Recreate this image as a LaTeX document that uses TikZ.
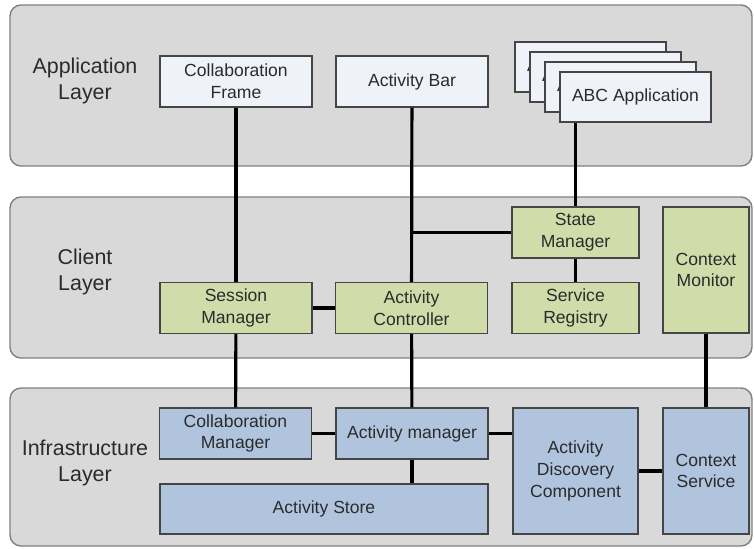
\documentclass[tikz,border=0pt]{standalone}
\usepackage{fontspec}
\setmainfont{Liberation Sans}
\usetikzlibrary{positioning}

\definecolor{layerfill}{HTML}{D9D9D9}
\definecolor{layerline}{HTML}{808080}
\definecolor{appfill}{HTML}{EFF2F8}
\definecolor{clientfill}{HTML}{D1DCAB}
\definecolor{infrafill}{HTML}{B1C4DE}
\definecolor{boxline}{HTML}{454545}
\definecolor{txt}{HTML}{2B2B2B}

\begin{document}
\begin{tikzpicture}[%
    x=0.02cm, y=-0.02cm,
    layer/.style={draw=layerline, fill=layerfill, line width=0.8pt, rounded corners=0.22cm},
    layerlabel/.style={text=txt, align=center, font=\fontsize{12.2}{15}\selectfont},
    box/.style={draw=boxline, line width=0.8pt, text=txt, align=center,
      inner sep=0pt, font=\fontsize{10}{12.4}\selectfont},
    appbox/.style={box, fill=appfill, minimum width=3.04cm, minimum height=1.02cm},
    clientbox/.style={box, fill=clientfill, minimum width=3.04cm, minimum height=1.02cm},
    infrabox/.style={box, fill=infrafill, minimum width=3.04cm, minimum height=1.02cm},
    link/.style={line width=1.8pt, black}
  ]
  \useasboundingbox (0,0) rectangle (754,548);

  % layers
  \draw[layer] (10,5) rectangle (752,166);
  \draw[layer] (10,197) rectangle (752,358);
  \draw[layer] (10,388) rectangle (752,546);

  \node[layerlabel] (applabel) at (85,81) {Application\\Layer};
  \node[layerlabel] (clientlabel) at (85,272) {Client\\Layer};
  \node[layerlabel] (infralabel) at (85,463) {Infrastructure\\Layer};

  % application layer
  \node[appbox] (frame) at (236,81.5) {Collaboration\\Frame};
  \node[appbox] (bar) at (412,81.5) {Activity Bar};
  \node[appbox, minimum width=3.02cm, minimum height=1cm] (abc3) at (590.5,67) {ABC Application};
  \node[appbox, minimum width=3.02cm, minimum height=1cm] (abc2) at (605.5,77) {ABC Application};
  \node[appbox, minimum width=3.02cm, minimum height=1cm] (abc1) at (620.5,87) {ABC Application};
  \node[appbox, minimum width=3.02cm, minimum height=1cm] (abc) at (635.5,97) {ABC Application};

  % client layer
  \node[clientbox] (session) at (236,308) {Session\\Manager};
  \node[clientbox] (ctrl) at (411.5,308) {Activity\\Controller};
  \node[clientbox, minimum width=2.54cm] (state) at (575.5,232.5) {State\\Manager};
  \node[clientbox, minimum width=2.54cm] (registry) [below=1.51cm of state.center, anchor=center] {Service\\Registry};
  \node[clientbox, minimum width=1.72cm, minimum height=2.52cm] (monitor) at (706,270) {Context\\Monitor};

  % infrastructure layer
  \node[infrabox] (collab) at (235.5,433.5) {Collaboration\\Manager};
  \node[infrabox] (am) at (412,433.5) {Activity manager};
  \node[infrabox, minimum width=6.56cm, minimum height=1cm] (store) at (324,509) {Activity Store};
  \node[infrabox, minimum width=2.5cm, minimum height=2.52cm] (adc) at (575.5,471) {Activity\\Discovery\\Component};
  \node[infrabox, minimum width=1.72cm, minimum height=2.52cm] (ctxsvc) at (706,471) {Context\\Service};

  % connectors
  \coordinate (junc) at (bar |- state);
  \draw[link] (frame) -- (session);
  \draw[link] (bar) -- (ctrl);
  \draw[link] (junc) -- (state);
  \draw[link] (state |- abc.south) -- (state);
  \draw[link] (state) -- (registry);
  \draw[link] (session) -- (ctrl);
  \draw[link] (session) -- (collab);
  \draw[link] (ctrl) -- (am);
  \draw[link] (monitor) -- (ctxsvc);
  \draw[link] (collab) -- (am);
  \draw[link] (am) -- (am -| adc.west);
  \draw[link] (am) -- (am |- store.north);
  \draw[link] (adc) -- (ctxsvc);
\end{tikzpicture}
\end{document}
